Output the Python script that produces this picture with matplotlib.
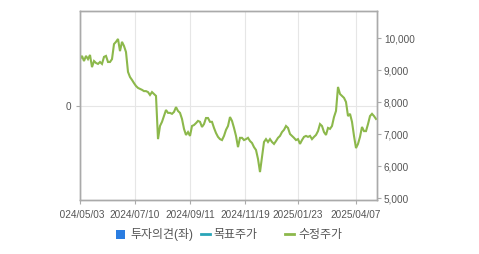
import matplotlib
matplotlib.use("Agg")
import matplotlib.pyplot as plt
from matplotlib.transforms import Bbox, TransformedBbox
from matplotlib.lines import Line2D
from matplotlib.patches import Rectangle

plt.rcParams['font.family'] = ['Liberation Sans', 'Noto Sans CJK KR', 'DejaVu Sans']

# adjusted close price (수정주가), sampled along the period
prices = [
    9340, 9440, 9280, 9440, 9340, 9470, 9090, 9280, 9220, 9190,
    9250, 9190, 9410, 9440, 9250, 9250, 9340, 9810, 9880, 9970,
    9590, 9880, 9750, 9560, 8940, 8780, 8690, 8590, 8500, 8440,
    8410, 8380, 8340, 8340, 8310, 8220, 8310, 8250, 8190, 6840,
    7250, 7380, 7560, 7750, 7660, 7660, 7630, 7690, 7840, 7720,
    7660, 7470, 7160, 6970, 7060, 6940, 7250, 7280, 7340, 7410,
    7380, 7220, 7310, 7500, 7500, 7380, 7380, 7190, 7030, 6910,
    6840, 6810, 6940, 7130, 7250, 7530, 7410, 7190, 6940, 6590,
    6880, 6880, 6810, 6840, 6880, 6780, 6720, 6590, 6500, 6220,
    5810, 6280, 6750, 6840, 6750, 6840, 6750, 6690, 6780, 6880,
    6940, 7060, 7130, 7250, 7190, 7000, 6940, 6880, 6810, 6840,
    6690, 6810, 6910, 6940, 6910, 6940, 6840, 6910, 6970, 7090,
    7310, 7250, 7060, 6970, 7190, 7160, 7250, 7530, 7720, 8470,
    8250, 8190, 8130, 8000, 7560, 7630, 7380, 6940, 6560, 6690,
    6910, 7220, 7090, 7090, 7310, 7560, 7630, 7560, 7470,
]
date_labels = ['2024/05/03', '2024/07/10', '2024/09/11', '2024/11/19', '2025/01/23', '2025/04/07']
date_pos = [0, 27.5, 55, 82.5, 109, 138]
price_ticks = [5000, 6000, 7000, 8000, 9000, 10000]
legend_labels = ['투자의견(좌)', '목표주가', '수정주가']

W, H = 479, 255
fig = plt.figure(figsize=(W / 100, H / 100), dpi=100)
L, R, T, B = 80, 377, 12, 201
ax = fig.add_axes([L / W, 1 - B / H, (R - L) / W, (B - T) / H])
ax2 = ax.twinx()

grid_c = '#e6e6e6'
spine_c = '#aaaaaa'
text_c = '#555555'

ax.set_xlim(0, 148.5)
ax.set_ylim(-1, 1)
ax.set_yticks([0])
ax.set_yticklabels(['0'])
ax.set_xticks(date_pos)
ax.set_xticklabels(date_labels)
ax.grid(True, color=grid_c, linewidth=0.8)
ax.set_axisbelow(True)

ax2.set_ylim(4937.5, 10843.75)
ax2.set_yticks(price_ticks)
ax2.set_yticklabels([f'{v:,}' for v in price_ticks])
ax2.plot(range(len(prices)), prices, color='#8cb84b', linewidth=1.5, solid_joinstyle='miter')

for a in (ax, ax2):
    for s in a.spines.values():
        s.set_color(spine_c)
        s.set_linewidth(1.0)
    a.tick_params(colors=spine_c, labelcolor=text_c, labelsize=7.2, length=3, width=0.8)
ax.tick_params(axis='x', pad=3.5)
ax.tick_params(axis='y', pad=3)
ax2.tick_params(axis='y', pad=2)

# clip the first date label at the left like the original
clipbox = TransformedBbox(Bbox.from_extents(59.5 / W, 0, 1, 1), fig.transFigure)
lbl = ax.get_xticklabels()[0]
lbl.set_clip_on(True)
lbl.set_clip_box(clipbox)

# legend drawn manually at the bottom
ly = 1 - 235 / H
fig.add_artist(Rectangle((116 / W, 1 - 239.5 / H), 9 / W, 9 / H, transform=fig.transFigure,
                         facecolor='#2b7de1', edgecolor='none'))
fig.text(130 / W, ly, legend_labels[0], fontsize=8.6, color=text_c, va='center', ha='left')
fig.add_artist(Line2D([201 / W, 210 / W], [ly, ly], transform=fig.transFigure, color='#29a5b8', linewidth=2))
fig.text(213 / W, ly, legend_labels[1], fontsize=8.6, color=text_c, va='center', ha='left')
fig.add_artist(Line2D([285 / W, 294 / W], [ly, ly], transform=fig.transFigure, color='#8cb84b', linewidth=2))
fig.text(298 / W, ly, legend_labels[2], fontsize=8.6, color=text_c, va='center', ha='left')

fig.savefig('out.png', dpi=100, facecolor='white')
